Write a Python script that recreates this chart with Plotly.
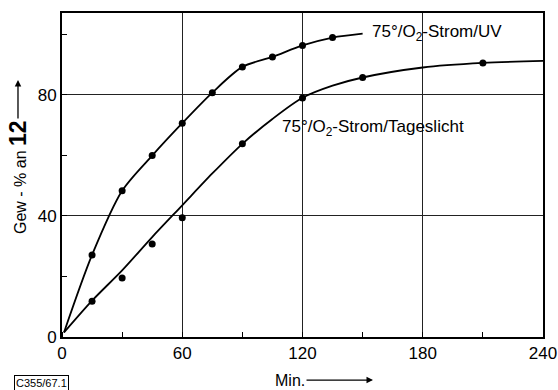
import plotly.graph_objects as go

# Measured points (minutes, weight-%)
uv_x = [15, 30, 45, 60, 75, 90, 105, 120, 135]
uv_y = [27.1, 48.3, 59.9, 70.6, 80.7, 89.2, 92.5, 96.3, 98.9]
tl_x = [15, 30, 45, 60, 90, 120, 150, 210]
tl_y = [11.8, 19.5, 30.7, 39.4, 63.8, 78.9, 85.7, 90.5]

# Drawn curves
uv_curve_x = [1, 15, 30, 45, 60, 75, 90, 105, 120, 135, 150]
uv_curve_y = [1.5, 27.1, 48.3, 59.9, 70.6, 80.7, 89.2, 92.5, 96.3, 98.9, 100.2]
tl_curve_x = [1, 15, 30, 45, 60, 75, 90, 105, 120, 135, 150, 180, 210, 240]
tl_curve_y = [1.5, 12, 22, 33, 43.5, 54, 63.8, 72, 79, 83, 85.7, 89, 90.5, 91.2]

x_ticks = [0, 60, 120, 180, 240]
y_ticks = [0, 40, 80]

FONT = "Liberation Sans, Arial, sans-serif"

fig = go.Figure()
for cx, cy in [(uv_curve_x, uv_curve_y), (tl_curve_x, tl_curve_y)]:
    fig.add_trace(go.Scatter(x=cx, y=cy, mode="lines",
                             line=dict(color="black", width=1.8, shape="spline", smoothing=0.8),
                             hoverinfo="skip", showlegend=False))
for px, py in [(uv_x, uv_y), (tl_x, tl_y)]:
    fig.add_trace(go.Scatter(x=px, y=py, mode="markers", marker=dict(color="black", size=7),
                             showlegend=False))

fig.update_layout(
    width=558, height=390,
    margin=dict(l=62, r=15, t=13, b=53, autoexpand=False),
    paper_bgcolor="white", plot_bgcolor="white",
    font=dict(family=FONT, size=17, color="black"),
    xaxis=dict(range=[0, 240], tickvals=x_ticks, ticktext=[str(v) for v in x_ticks],
               showgrid=True, gridcolor="#222", gridwidth=1, zeroline=False,
               showline=True, linecolor="black", linewidth=2, mirror=True,
               ticks="", ticklen=0, automargin=False,
               minor=dict(dtick=30, tick0=0, ticks="inside", ticklen=5, tickcolor="black", showgrid=False)),
    yaxis=dict(range=[0, 107], tickvals=y_ticks, ticktext=[str(v) for v in y_ticks],
               showgrid=True, gridcolor="#222", gridwidth=1, zeroline=False,
               showline=True, linecolor="black", linewidth=2, mirror=True,
               ticks="", ticklen=0, automargin=False,
               minor=dict(dtick=20, tick0=0, ticks="inside", ticklen=5, tickcolor="black", showgrid=False)),
)

fig.add_annotation(x=153.6, y=100.5, xref="x", yref="y", text="75°/O<sub>2</sub>-Strom/UV",
                   showarrow=False, xanchor="left", yanchor="middle", font=dict(size=17))
fig.add_annotation(x=108.7, y=69.1, xref="x", yref="y", text="75°/O<sub>2</sub>-Strom/Tageslicht",
                   showarrow=False, xanchor="left", yanchor="middle", font=dict(size=17))

# y title with arrow pointing up (head at top)
fig.add_annotation(x=-0.0915, y=0.793, xref="paper", yref="paper",
                   text="Gew - % an <b><span style='font-size:23px'>12</span></b>",
                   textangle=-90, showarrow=True, axref="pixel", ayref="pixel", ax=0, ay=97,
                   arrowhead=2, arrowsize=1, arrowwidth=1.3, arrowcolor="black",
                   xanchor="center", yanchor="middle", font=dict(size=16))
# x title with arrow pointing right
fig.add_annotation(x=0.6466, y=-0.133, xref="paper", yref="paper", text="Min.",
                   showarrow=True, ax=-83, ay=0,
                   arrowhead=2, arrowsize=1, arrowwidth=1.3, arrowcolor="black",
                   xanchor="center", yanchor="middle", font=dict(size=16))
# code box
fig.add_annotation(x=-0.0416, y=-0.1435, xref="paper", yref="paper", text="C355/67.1",
                   showarrow=False, font=dict(size=11), bordercolor="black", borderwidth=1, borderpad=1,
                   xanchor="center", yanchor="middle")

fig.write_html("out.html", config={"displayModeBar": False},
               post_script="document.body.style.margin='0';")
